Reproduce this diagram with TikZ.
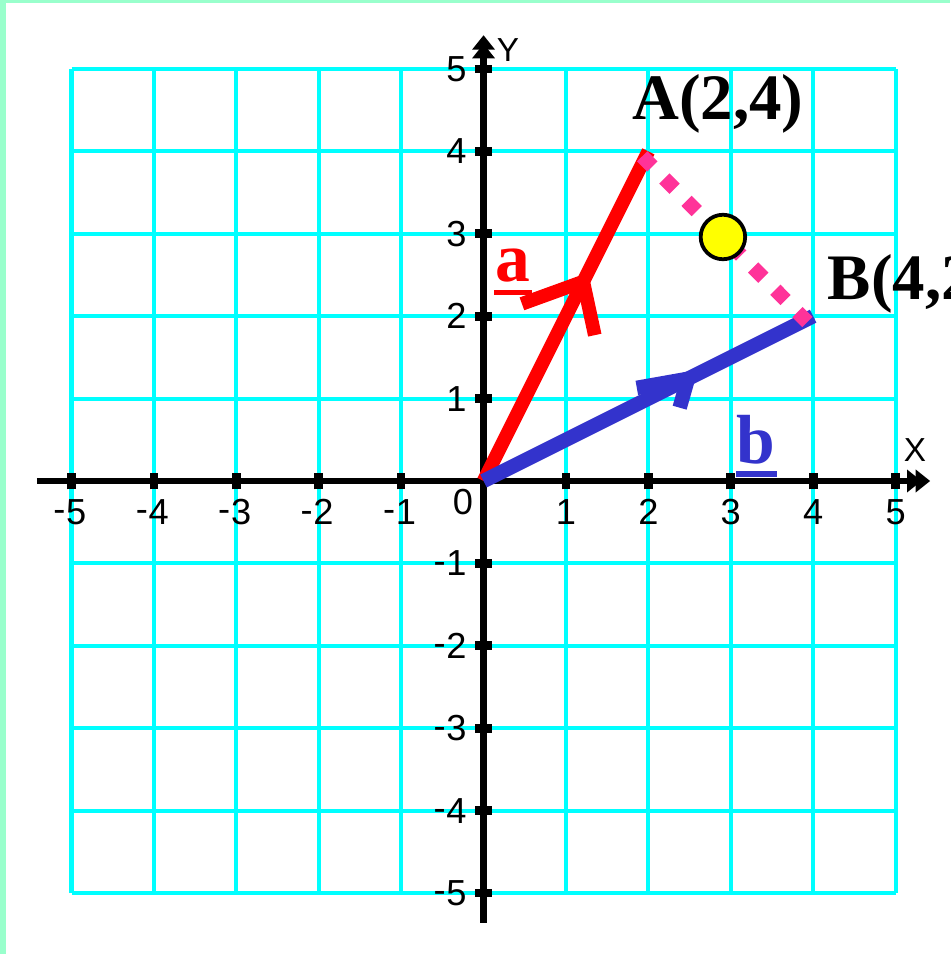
\documentclass[tikz,border=0pt]{standalone}
\usepackage{fontspec}
\setmainfont{Liberation Serif}
\setsansfont{Liberation Sans}
\usetikzlibrary{arrows.meta}
\definecolor{mint}{RGB}{153,255,204}
\definecolor{gridcyan}{RGB}{0,255,255}
\definecolor{vecred}{RGB}{255,0,0}
\definecolor{vecblue}{RGB}{51,51,204}
\definecolor{dotpink}{RGB}{255,51,153}
\definecolor{ptyellow}{RGB}{255,255,0}
\newcommand{\negsign}{\raisebox{0.07em}{-}\kern0.02em}
\begin{document}
\begin{tikzpicture}[x=1cm,y=1cm,
  gridline/.style={gridcyan, line width=1.4pt},
  axisline/.style={black, line width=2.4pt,
    -{Triangle[length=5pt,width=7.6pt,sep=-2pt]Triangle[length=5pt,width=7.6pt]}},
  tickmark/.style={black, line width=3pt},
  ticklabel/.style={font=\sffamily\fontsize{12.5}{14}\selectfont, inner sep=0pt},
  axislabel/.style={font=\sffamily\fontsize{11.5}{13}\selectfont, inner sep=0pt},
  ptlabel/.style={font=\bfseries\fontsize{22.4}{26}\selectfont, inner sep=0pt},
  veclabel/.style={font=\bfseries\fontsize{24}{28}\selectfont, inner sep=0pt},
  veca/.style={vecred, line width=4.7pt},
  vecb/.style={vecblue, line width=5pt},
  dotline/.style={dotpink, line width=5pt, dash pattern=on 5pt off 5.85pt},
  midpt/.style={circle, fill=ptyellow, draw=black, line width=1.3pt, minimum size=0.54cm, inner sep=0pt}
]
\useasboundingbox (-5.868,-5.740) rectangle (5.661,5.837);
\clip (-5.868,-5.740) rectangle (5.661,5.837);
\fill[white] (-5.868,-5.740) rectangle (5.661,5.837);
\fill[mint] (-5.868,-5.740) rectangle (-5.795,5.837);
\fill[mint] (-5.868,5.801) rectangle (5.661,5.837);

% grid
\draw[gridline] (-5,-5) grid (5,5);

% axes
\coordinate (xs) at (-5.42,0);
\coordinate (xe) at (5.42,0);
\coordinate (ys) at (0,-5.36);
\coordinate (ye) at (0,5.41);
\draw[axisline] (xs) -- (xe);
\draw[axisline] (ys) -- (ye);

\foreach \k in {1,...,5} {
  \draw[tickmark] (\k,-0.103) -- (\k,0.103);
  \draw[tickmark] (-\k,-0.103) -- (-\k,0.103);
  \draw[tickmark] (-0.103,\k) -- (0.103,\k);
  \draw[tickmark] (-0.103,-\k) -- (0.103,-\k);
  \node[ticklabel] (xp\k) at (\k,-0.376) {\k};
  \node[ticklabel] (xn\k) at (-\k-0.02,-0.376) {\negsign\k};
  \node[ticklabel, anchor=east] (yp\k) at (-0.2,\k) {\k};
  \node[ticklabel, anchor=east] (yn\k) at (-0.2,-\k) {\negsign\k};
}
\node[ticklabel] (zero) at (-0.249,-0.255) {0};
\node[axislabel] (lx) at (5.235,0.376) {X};
\node[axislabel] (ly) at (0.297,5.23) {Y};

% points
\coordinate (O) at (0,0);
\coordinate (A) at (2,4);
\coordinate (B) at (4,2);

% vector a
\draw[veca] (O) -- (A);
\coordinate (a1) at (0.466,2.15);
\coordinate (a2) at (1.21,2.42);
\coordinate (a3) at (1.35,1.77);
\draw[veca] (a1) -- (a2) -- (a3);

% vector b
\draw[vecb] (O) -- (B);
\coordinate (b1) at (1.86,1.13);
\coordinate (b2) at (2.48,1.24);
\coordinate (b3) at (2.38,0.89);
\draw[vecb] (b1) -- (b2) -- (b3);

% dotted segment AB
\coordinate (d1) at (1.925,3.94);
\coordinate (d2) at (3.93,1.93);
\draw[dotline] (d1) -- (d2);

% midpoint
\node[midpt] (M) at (2.905,2.961) {};

% labels
\node[ptlabel, anchor=base west] (lA) at (1.80,4.383) {A(2,4)};
\node[ptlabel, anchor=base west] (lB) at (4.17,2.197) {B(4,2)};

\node[veclabel, text=vecred, anchor=base] (la) at (0.358,2.415) {a};
\coordinate (ua1) at (0.127,2.282);
\coordinate (ua2) at (0.589,2.282);
\draw[vecred, line width=1.7pt] (ua1) -- (ua2);

\node[veclabel, text=vecblue, anchor=base] (lb) at (3.307,0.218) {b};
\coordinate (ub1) at (3.064,0.085);
\coordinate (ub2) at (3.562,0.085);
\draw[vecblue, line width=2pt] (ub1) -- (ub2);
\end{tikzpicture}
\end{document}
